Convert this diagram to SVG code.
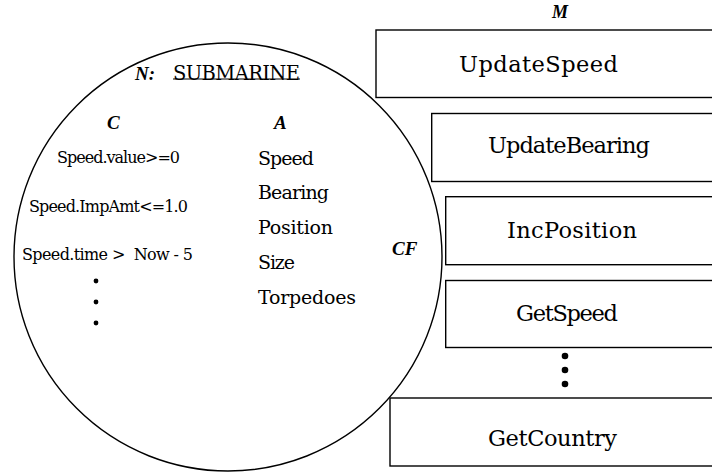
<svg xmlns="http://www.w3.org/2000/svg" width="712" height="473" viewBox="0 0 712 473">
<style>
.bg{fill:#fff}
.circ{fill:#fff;stroke:#000;stroke-width:1.4}
.box{fill:#fff;stroke:#000;stroke-width:1.4}
.lbl{font-family:"DejaVu Serif","Liberation Serif",serif;fill:#000}
.big{font-size:22.5px}
.attr{font-size:19px}
.con{font-size:16px}
.key{font-family:"Liberation Serif",serif;font-weight:bold;font-style:italic;fill:#000}
.dot{fill:#000}
.ul{stroke:#000;stroke-width:1}
</style>
<rect class="bg" x="0" y="0" width="712" height="473"/>
<g id="submarine">
<circle class="circ" cx="228" cy="257" r="214"/>
<text class="key" x="135" y="80" font-size="19">N:</text>
<text class="lbl" x="173" y="80" font-size="19.5" textLength="127">SUBMARINE</text>
<line class="ul" x1="173" y1="79" x2="300" y2="79"/>
<text class="key" x="107" y="129" font-size="19">C</text>
<text class="key" x="274" y="129" font-size="19">A</text>
<text class="lbl con" x="57" y="163" textLength="123">Speed.value&gt;=0</text>
<text class="lbl con" x="29" y="212" textLength="159">Speed.ImpAmt&lt;=1.0</text>
<text class="lbl con" x="22" y="260" textLength="171" xml:space="preserve">Speed.time &gt;  Now - 5</text>
<circle class="dot" cx="96" cy="281" r="2.4"/>
<circle class="dot" cx="96" cy="302" r="2.4"/>
<circle class="dot" cx="96" cy="323" r="2.4"/>
<text class="lbl attr" x="258" y="165" textLength="56">Speed</text>
<text class="lbl attr" x="258" y="199" textLength="71">Bearing</text>
<text class="lbl attr" x="258" y="234" textLength="75">Position</text>
<text class="lbl attr" x="258" y="269" textLength="37">Size</text>
<text class="lbl attr" x="258" y="304" textLength="98">Torpedoes</text>
<text class="key" x="392" y="255" font-size="19">CF</text>
</g>
<g id="methods-title">
<text class="key" x="560" y="18" font-size="18" text-anchor="middle">M</text>
</g>
<g id="m-updatespeed">
<rect class="box" x="376" y="30" width="340" height="67.5"/>
<text class="lbl big" x="459" y="72" textLength="159">UpdateSpeed</text>
</g>
<g id="m-updatebearing">
<rect class="box" x="431.7" y="113.5" width="290" height="68"/>
<text class="lbl big" x="488" y="153" textLength="162">UpdateBearing</text>
</g>
<g id="m-incposition">
<rect class="box" x="445.7" y="196.7" width="280" height="68"/>
<text class="lbl big" x="507" y="238" textLength="130">IncPosition</text>
</g>
<g id="m-getspeed">
<rect class="box" x="445.7" y="280.5" width="280" height="67"/>
<text class="lbl big" x="516" y="320.5" textLength="102">GetSpeed</text>
</g>
<g id="m-more">
<circle class="dot" cx="565" cy="356" r="3.3"/>
<circle class="dot" cx="565" cy="370" r="3.3"/>
<circle class="dot" cx="565" cy="384" r="3.3"/>
</g>
<g id="m-getcountry">
<rect class="box" x="390" y="398" width="330" height="68"/>
<text class="lbl big" x="488" y="445.5" textLength="129">GetCountry</text>
</g>
<g id="connectors"></g>
</svg>
